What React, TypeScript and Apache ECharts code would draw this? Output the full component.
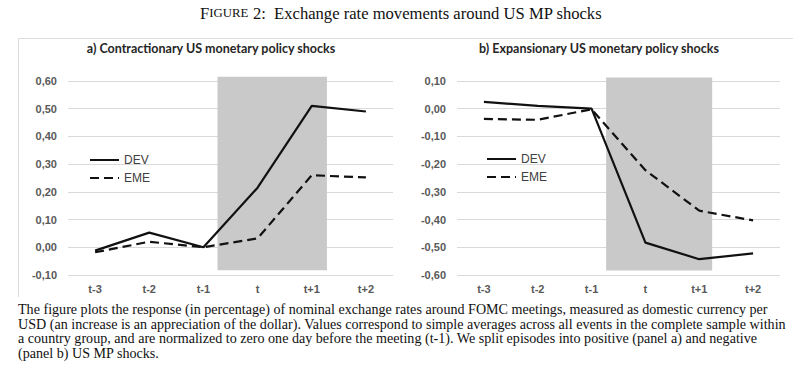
import React, { useEffect, useRef } from "react";
import * as echarts from "echarts";

const categories = ["t-3", "t-2", "t-1", "t", "t+1", "t+2"];
const devA = [-0.012, 0.053, 0.0, 0.215, 0.51, 0.49];
const emeA = [-0.018, 0.02, 0.0, 0.032, 0.26, 0.252];
const devB = [0.025, 0.01, 0.0, -0.483, -0.543, -0.522];
const emeB = [-0.037, -0.04, -0.002, -0.222, -0.368, -0.403];
// shaded window: [x start, x end, y top, y bottom] in category-index / value units
const shadeA = [2.26, 4.28, 0.615, -0.083];
const shadeB = [2.27, 4.24, 0.113, -0.584];
const yRangeA = [-0.1, 0.6];
const yRangeB = [-0.6, 0.1];
const titleA = "a) Contractionary US monetary policy shocks";
const titleB = "b) Expansionary US monetary policy shocks";
const captionLines = [
  "The figure plots the response (in percentage) of nominal exchange rates around FOMC meetings, measured as domestic currency per",
  "USD (an increase is an appreciation of the dollar). Values correspond to simple averages across all events in the complete sample within",
  "a country group, and are normalized to zero one day before the meeting (t-1). We split episodes into positive (panel a) and negative",
  "(panel b) US MP shocks.",
];

const fmt = (v: number) => {
  const x = Math.abs(v) < 1e-9 ? 0 : v;
  return x.toFixed(2).replace(".", ",");
};

const axisFont = {
  fontFamily: "Liberation Sans",
  fontWeight: "bold" as const,
  fontSize: 11,
  color: "#595959",
};

function shadeRender(params: any, api: any) {
  const p0 = api.coord([api.value(0), api.value(2)]);
  const p1 = api.coord([api.value(1), api.value(3)]);
  return {
    type: "rect",
    shape: { x: p0[0], y: p0[1], width: p1[0] - p0[0], height: p1[1] - p0[1] },
    style: { fill: "#c9c9c9" },
  };
}

export default function App() {
  const ref = useRef<HTMLDivElement>(null);
  useEffect(() => {
    const chart = echarts.init(ref.current!, null, { renderer: "svg" });
    const grids = [
      { left: 68, width: 325, top: 81, height: 194 },
      { left: 457, width: 323, top: 81, height: 194 },
    ];
    const catAxis = (gi: number) => ({
      type: "category",
      gridIndex: gi,
      data: categories,
      boundaryGap: true,
      axisLine: { show: false },
      axisTick: { show: false },
      axisLabel: { ...axisFont, margin: 8 },
    });
    const valX = (gi: number) => ({
      type: "value",
      gridIndex: gi,
      min: -0.5,
      max: 5.5,
      show: false,
    });
    const yAx = (gi: number, r: number[]) => ({
      type: "value",
      gridIndex: gi,
      min: r[0],
      max: r[1],
      interval: 0.1,
      axisLine: { show: false },
      axisTick: { show: false },
      splitLine: { lineStyle: { color: "#d9d9d9", width: 1 } },
      axisLabel: { ...axisFont, margin: 11, formatter: fmt },
    });
    const lineSeries = (name: string, data: number[], xi: number, yi: number, dashed: boolean) => ({
      type: "line",
      name,
      data,
      xAxisIndex: xi,
      yAxisIndex: yi,
      symbol: "none",
      z: 3,
      color: "#111",
      lineStyle: { color: "#111", width: 2.2, type: dashed ? [9, 5] : "solid" },
    });
    const legendCfg = (left: number, top: number) => ({
      left,
      top,
      padding: 0,
      orient: "vertical",
      data: ["DEV", "EME"],
      itemWidth: 29,
      itemHeight: 14,
      itemGap: 6,
      selectedMode: false,
      itemStyle: { color: "rgba(0,0,0,0)", borderWidth: 0, opacity: 0 },
      textStyle: { fontFamily: "Liberation Sans", fontSize: 12, color: "#404040" },
    });
    chart.setOption({
      animation: false,
      backgroundColor: "#fff",
      grid: grids,
      xAxis: [catAxis(0), valX(0), catAxis(1), valX(1)],
      yAxis: [yAx(0, yRangeA), yAx(1, yRangeB)],
      legend: [legendCfg(89, 154), legendCfg(486, 153)],
      series: [
        {
          type: "custom",
          xAxisIndex: 1,
          yAxisIndex: 0,
          z: 1,
          renderItem: shadeRender,
          data: [shadeA],
          silent: true,
        },
        lineSeries("DEV", devA, 0, 0, false),
        lineSeries("EME", emeA, 0, 0, true),
        {
          type: "custom",
          xAxisIndex: 3,
          yAxisIndex: 1,
          z: 1,
          renderItem: shadeRender,
          data: [shadeB],
          silent: true,
        },
        lineSeries("DEV", devB, 2, 1, false),
        lineSeries("EME", emeB, 2, 1, true),
      ],
      graphic: [
        {
          type: "line",
          shape: { x1: 18, y1: 38.5, x2: 793, y2: 38.5 },
          style: { stroke: "#dcdcdc", lineWidth: 1 },
          silent: true,
        },
        {
          type: "line",
          shape: { x1: 18.5, y1: 38, x2: 18.5, y2: 297 },
          style: { stroke: "#dcdcdc", lineWidth: 1 },
          silent: true,
        },
        {
          type: "text",
          x: 401,
          y: 13,
          style: {
            text: "{a|F}{b|IGURE}{a| 2:  Exchange rate movements around US MP shocks}",
            align: "center",
            verticalAlign: "middle",
            fill: "#111",
            rich: {
              a: { fontFamily: "Liberation Serif", fontSize: 16.6, fill: "#111" },
              b: { fontFamily: "Liberation Serif", fontSize: 12.8, fill: "#111" },
            },
          },
        },
        {
          type: "text",
          x: 211,
          y: 48,
          style: {
            text: titleA,
            align: "center",
            verticalAlign: "middle",
            fontFamily: "Lato",
            fontWeight: "bold",
            fontSize: 12.5,
            fill: "#262626",
          },
        },
        {
          type: "text",
          x: 599,
          y: 48,
          style: {
            text: titleB,
            align: "center",
            verticalAlign: "middle",
            fontFamily: "Lato",
            fontWeight: "bold",
            fontSize: 12.5,
            fill: "#262626",
          },
        },
        ...captionLines.map((t, i) => ({
          type: "text",
          x: 18,
          y: 309 + i * 14.7,
          style: {
            text: t,
            align: "left",
            verticalAlign: "middle",
            fontFamily: "Liberation Serif",
            fontSize: 14.1,
            fill: "#111",
          },
        })),
      ],
    });
    return () => chart.dispose();
  }, []);
  return (
    <div
      ref={ref}
      style={{ position: "absolute", left: 0, top: 0, width: 800, height: 372 }}
    />
  );
}
